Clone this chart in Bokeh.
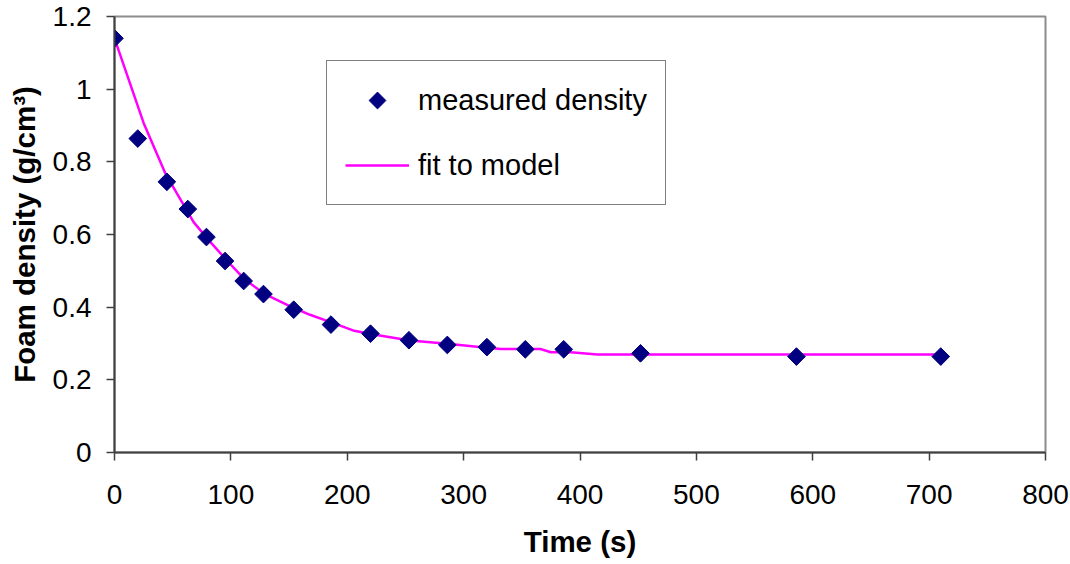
import math
from bokeh.plotting import figure
from bokeh.models import FixedTicker, Legend, LegendItem, Range1d
from bokeh.embed import file_html
from bokeh.resources import INLINE

# ---- data ----
time_s = [0, 20, 45, 63, 79, 95, 111, 128, 154, 186, 220, 253, 286, 320, 353, 386, 452, 586, 710]
density = [1.14, 0.864, 0.745, 0.670, 0.593, 0.527, 0.472, 0.436, 0.393, 0.352, 0.327, 0.309,
           0.296, 0.290, 0.284, 0.284, 0.273, 0.264, 0.264]

fit_t = [0, 25, 44, 54, 68, 80, 95, 111, 128, 151, 168, 188, 205, 220, 254, 286, 320, 332,
         366, 375, 392, 415, 710]
fit_y = [1.14, 0.907, 0.766, 0.711, 0.634, 0.588, 0.534, 0.479, 0.438, 0.402, 0.379, 0.356,
         0.336, 0.326, 0.308, 0.299, 0.288, 0.285, 0.285, 0.276, 0.276, 0.270, 0.270]

x_ticks = [0, 100, 200, 300, 400, 500, 600, 700, 800]
y_ticks = [0, 0.2, 0.4, 0.6, 0.8, 1, 1.2]
y_tick_labels = ["0", "0.2", "0.4", "0.6", "0.8", "1", "1.2"]

x_title = "Time (s)"
y_title = "Foam density (g/cm³)"
series_names = ["measured density", "fit to model"]

FONT = "Liberation Sans"
NAVY = "#000080"
MAGENTA = "#ff00ff"

p = figure(width=1070, height=564, output_backend="svg", toolbar_location=None,
           x_range=Range1d(0, 800), y_range=Range1d(0, 1.2),
           min_border_left=114, min_border_right=25, min_border_top=16, min_border_bottom=112)

p.background_fill_color = "white"
p.border_fill_color = "white"
p.outline_line_color = "#8c8c8c"
p.outline_line_width = 2
p.xgrid.visible = False
p.ygrid.visible = False

fit_r = p.line(fit_t, fit_y, line_color=MAGENTA, line_width=2.5)
meas_r = p.scatter(time_s, density, marker="square", size=12.5, angle=math.pi / 4,
                   fill_color=NAVY, line_color=NAVY)

# legend-only proxy (a NaN point, never drawn in the plot) so the legend shows a
# square diamond, because legend markers ignore the angle
try:
    legend_proxy = p.ngon(x=[math.nan], y=[math.nan], radius=8, n=4,
                          radius_units="screen", fill_color=NAVY, line_color=NAVY)
except Exception:
    legend_proxy = p.scatter(x=[math.nan], y=[math.nan], marker="diamond",
                             fill_color=NAVY, line_color=NAVY)

for ax in (p.xaxis[0], p.yaxis[0]):
    ax.axis_line_color = "#404040"
    ax.axis_line_width = 2
    ax.major_tick_line_color = "#404040"
    ax.major_tick_line_width = 1.5
    ax.major_tick_in = 0
    ax.major_tick_out = 8
    ax.minor_tick_line_color = None
    ax.major_label_text_font = FONT
    ax.major_label_text_font_size = "28px"
    ax.major_label_text_color = "black"
    ax.axis_label_text_font = FONT
    ax.axis_label_text_font_size = "29.5px"
    ax.axis_label_text_font_style = "bold"
    ax.axis_label_text_color = "black"

p.xaxis[0].ticker = FixedTicker(ticks=x_ticks)
p.yaxis[0].ticker = FixedTicker(ticks=y_ticks)
p.yaxis[0].major_label_overrides = dict(zip(y_ticks, y_tick_labels))
p.xaxis[0].major_label_standoff = 24
p.yaxis[0].major_label_standoff = 15
p.xaxis[0].axis_label = x_title
p.yaxis[0].axis_label = y_title
p.xaxis[0].axis_label_standoff = 18
p.yaxis[0].axis_label_standoff = 9

legend = Legend(items=[LegendItem(label=series_names[0], renderers=[legend_proxy]),
                       LegendItem(label=series_names[1], renderers=[fit_r])],
                location=(212, 247), margin=0, padding=18, spacing=23,
                glyph_width=64, glyph_height=42, label_standoff=9,
                label_text_font=FONT, label_text_font_size="29px",
                label_text_color="black",
                border_line_color="black", border_line_width=1.5,
                background_fill_color="white", background_fill_alpha=1)
p.add_layout(legend, "center")

open("out.html", "w").write(file_html(p, INLINE))
